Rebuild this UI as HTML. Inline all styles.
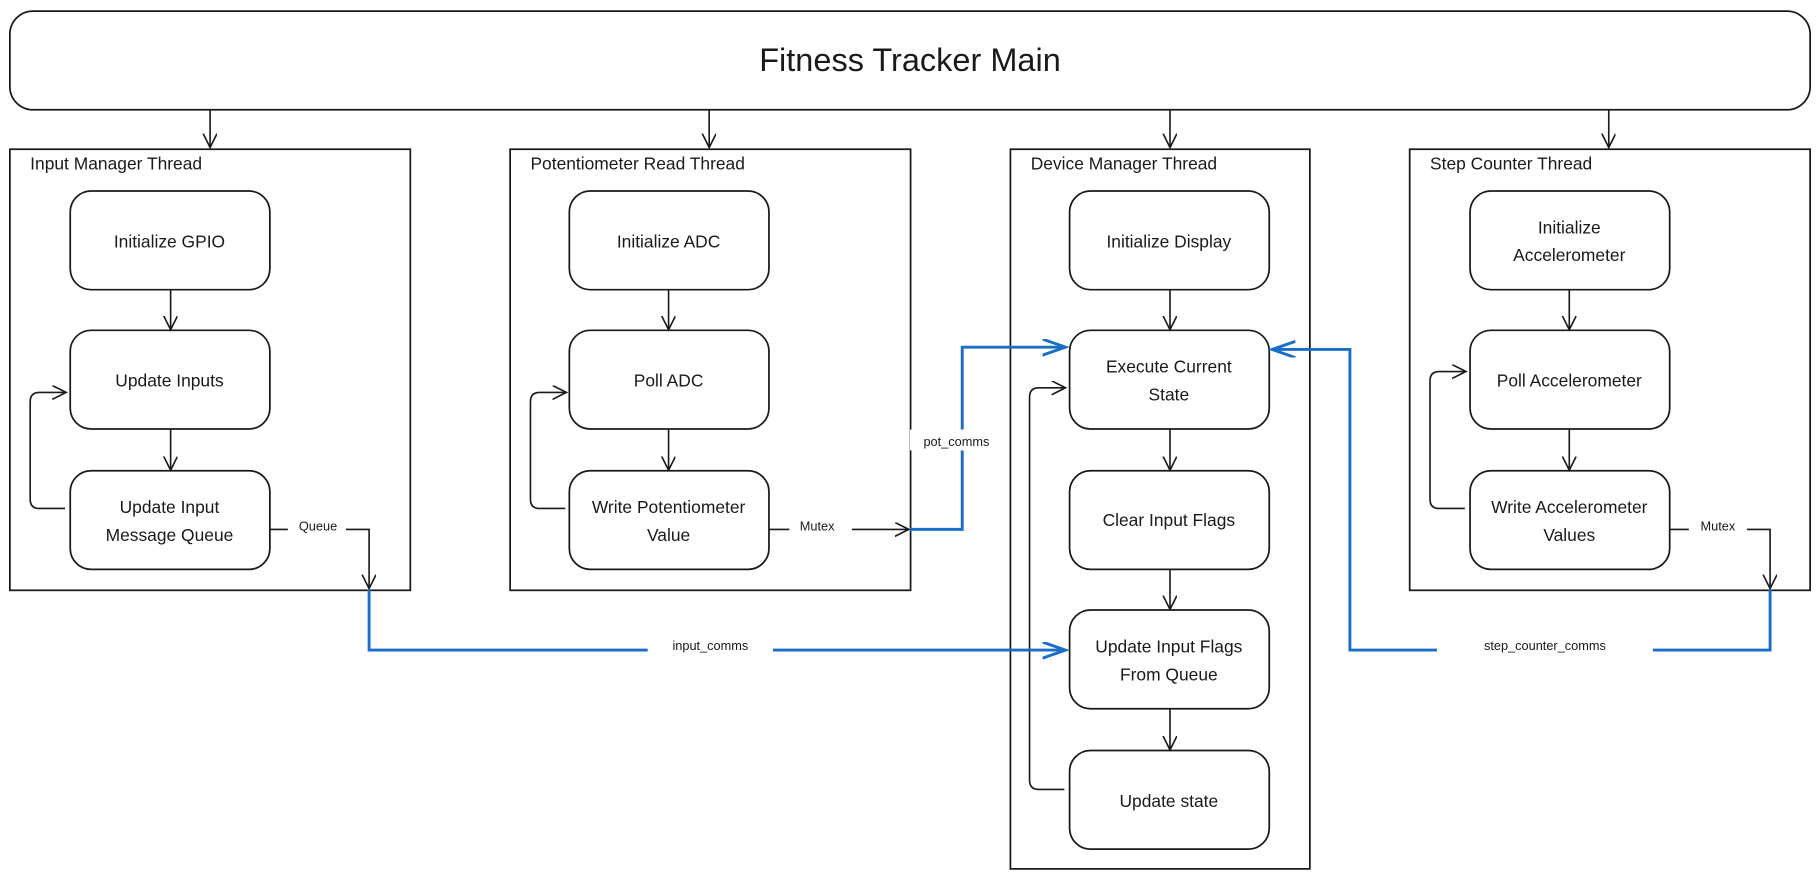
<!DOCTYPE html>
<html><head><meta charset="utf-8"><style>
html,body{margin:0;padding:0;background:#fff;}
svg{display:block;}
text{font-family:"Liberation Sans",sans-serif;fill:#1a1a1a;}
</style></head><body>
<svg width="1820" height="880" viewBox="0 0 1568 758" xmlns="http://www.w3.org/2000/svg">
<defs>
<marker id="a" markerWidth="14" markerHeight="14" refX="12" refY="6" orient="auto" markerUnits="userSpaceOnUse">
<path d="M0,0 L12,6 L0,12" fill="none" stroke="#1a1a1a" stroke-width="1.4"/></marker>
<marker id="b" markerWidth="24" markerHeight="16" refX="20" refY="7" orient="auto" markerUnits="userSpaceOnUse">
<path d="M0,0 L20,7 L0,14" fill="none" stroke="#1b6ec8" stroke-width="2.5"/></marker>
</defs>
<g fill="none" stroke="#1a1a1a" stroke-width="1.5">
<rect x="8.5" y="9.5" width="1551" height="85" rx="20"/>
<rect x="8.5" y="128.5" width="345" height="380"/>
<rect x="439.5" y="128.5" width="345" height="380"/>
<rect x="870.5" y="128.5" width="258" height="620"/>
<rect x="1214.5" y="128.5" width="345" height="380"/>
<!-- nodes -->
<rect x="60.5" y="164.5" width="172" height="85" rx="18"/>
<rect x="60.5" y="284.5" width="172" height="85" rx="18"/>
<rect x="60.5" y="405.5" width="172" height="85" rx="18"/>
<rect x="490.5" y="164.5" width="172" height="85" rx="18"/>
<rect x="490.5" y="284.5" width="172" height="85" rx="18"/>
<rect x="490.5" y="405.5" width="172" height="85" rx="18"/>
<rect x="921.5" y="164.5" width="172" height="85" rx="18"/>
<rect x="921.5" y="284.5" width="172" height="85" rx="18"/>
<rect x="921.5" y="405.5" width="172" height="85" rx="18"/>
<rect x="921.5" y="525.5" width="172" height="85" rx="18"/>
<rect x="921.5" y="646.5" width="172" height="85" rx="18"/>
<rect x="1266.5" y="164.5" width="172" height="85" rx="18"/>
<rect x="1266.5" y="284.5" width="172" height="85" rx="18"/>
<rect x="1266.5" y="405.5" width="172" height="85" rx="18"/>
</g>
<g fill="none" stroke="#1a1a1a" stroke-width="1.4">
<line x1="181" y1="95" x2="181" y2="127" marker-end="url(#a)"/>
<line x1="611" y1="95" x2="611" y2="127" marker-end="url(#a)"/>
<line x1="1008" y1="95" x2="1008" y2="127" marker-end="url(#a)"/>
<line x1="1386" y1="95" x2="1386" y2="127" marker-end="url(#a)"/>
<line x1="147" y1="250" x2="147" y2="284" marker-end="url(#a)"/>
<line x1="147" y1="370" x2="147" y2="405" marker-end="url(#a)"/>
<line x1="576" y1="250" x2="576" y2="284" marker-end="url(#a)"/>
<line x1="576" y1="370" x2="576" y2="405" marker-end="url(#a)"/>
<line x1="1008" y1="250" x2="1008" y2="284" marker-end="url(#a)"/>
<line x1="1008" y1="370" x2="1008" y2="405" marker-end="url(#a)"/>
<line x1="1008" y1="490" x2="1008" y2="525" marker-end="url(#a)"/>
<line x1="1008" y1="611" x2="1008" y2="646" marker-end="url(#a)"/>
<line x1="1352" y1="250" x2="1352" y2="284" marker-end="url(#a)"/>
<line x1="1352" y1="370" x2="1352" y2="405" marker-end="url(#a)"/>
<path d="M56,438 H34 Q26,438 26,430 V346 Q26,338 34,338 H57" marker-end="url(#a)"/>
<path d="M487,438 H465 Q457,438 457,430 V346 Q457,338 465,338 H488" marker-end="url(#a)"/>
<path d="M1262,438 H1240 Q1232,438 1232,430 V328 Q1232,320 1240,320 H1263" marker-end="url(#a)"/>
<path d="M917,680 H895 Q887,680 887,672 V342 Q887,334 895,334 H918" marker-end="url(#a)"/>
<path d="M232,456 H248 M298,456 H318 V507" marker-end="url(#a)"/>
<path d="M663,456 H680 M734,456 H783" marker-end="url(#a)"/>
<path d="M1439,456 H1455 M1505,456 H1525 V507" marker-end="url(#a)"/>
</g>
<g fill="none" stroke="#1b6ec8" stroke-width="2.5">
<path d="M318,508 V560 H558 M666,560 H918" marker-end="url(#b)"/>
<path d="M784,456 H829 V299 H918" marker-end="url(#b)"/>
<path d="M1525,508 V560 H1424 M1238,560 H1163 V301 H1096" marker-end="url(#b)"/>
</g>
<rect x="784" y="370" width="84" height="18" fill="#fff"/>
<text x="784" y="61" font-size="28" text-anchor="middle">Fitness Tracker Main</text>
<g font-size="15">
<text x="26" y="146">Input Manager Thread</text>
<text x="457" y="146">Potentiometer Read Thread</text>
<text x="888" y="146">Device Manager Thread</text>
<text x="1232" y="146">Step Counter Thread</text>
</g>
<g font-size="15" text-anchor="middle">
<text x="146" y="213">Initialize GPIO</text>
<text x="146" y="333">Update Inputs</text>
<text x="146" y="442">Update Input</text><text x="146" y="466">Message Queue</text>
<text x="576" y="213">Initialize ADC</text>
<text x="576" y="333">Poll ADC</text>
<text x="576" y="442">Write Potentiometer</text><text x="576" y="466">Value</text>
<text x="1007" y="213">Initialize Display</text>
<text x="1007" y="321">Execute Current</text><text x="1007" y="345">State</text>
<text x="1007" y="453">Clear Input Flags</text>
<text x="1007" y="562">Update Input Flags</text><text x="1007" y="586">From Queue</text>
<text x="1007" y="695">Update state</text>
<text x="1352" y="201">Initialize</text><text x="1352" y="225">Accelerometer</text>
<text x="1352" y="333">Poll Accelerometer</text>
<text x="1352" y="442">Write Accelerometer</text><text x="1352" y="466">Values</text>
</g>
<g font-size="11" text-anchor="middle">
<text x="274" y="457">Queue</text>
<text x="704" y="457">Mutex</text>
<text x="1480" y="457">Mutex</text>
<text x="824" y="384">pot_comms</text>
<text x="612" y="560">input_comms</text>
<text x="1331" y="560">step_counter_comms</text>
</g>
</svg>
</body></html>
